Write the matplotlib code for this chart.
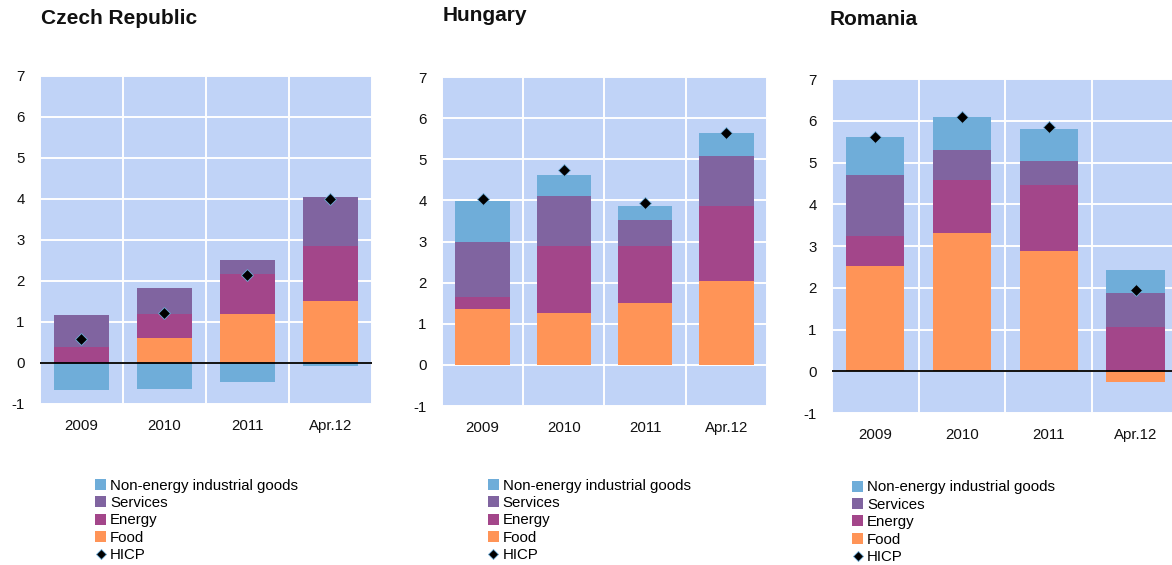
"""
HICP inflation decomposition: Czech Republic, Hungary, Romania.
Stacked contributions (pp) with headline HICP diamonds.
"""
import numpy as np
import matplotlib
matplotlib.use("Agg")
import matplotlib.pyplot as plt
from matplotlib.patches import Patch
from matplotlib.lines import Line2D

plt.rcParams["font.family"] = ["Liberation Sans", "DejaVu Sans"]
plt.rcParams["axes.unicode_minus"] = False

# ── Data ──
periods = ["2009", "2010", "2011", "Apr.12"]

cz_food = [0.0, 0.62, 1.20, 1.50]
cz_energy = [0.38, 0.58, 0.97, 1.36]
cz_services = [0.78, 0.64, 0.35, 1.19]
cz_neig = [-0.65, -0.63, -0.47, -0.08]
cz_hicp = [0.58, 1.23, 2.14, 4.00]

hu_food = [1.35, 1.27, 1.51, 2.05]
hu_energy = [0.29, 1.63, 1.37, 1.81]
hu_services = [1.36, 1.21, 0.65, 1.23]
hu_neig = [0.99, 0.50, 0.34, 0.56]
hu_hicp = [4.03, 4.73, 3.93, 5.64]

ro_food = [2.53, 3.32, 2.89, -0.26]
ro_energy = [0.72, 1.25, 1.56, 1.06]
ro_services = [1.45, 0.72, 0.59, 0.82]
ro_neig = [0.90, 0.79, 0.77, 0.54]
ro_hicp = [5.61, 6.10, 5.85, 1.95]

components = ["Food", "Energy", "Services", "Non-energy industrial goods"]

# Palette
C = {
    "Food": "#FF9457", "Energy": "#A3468A", "Services": "#8064A0",
    "Non-energy industrial goods": "#6FADD9", "bg": "#C0D3F7",
    "grid": "#FFFFFF", "text": "#111111",
}

panels = [
    ("Czech Republic", [cz_food, cz_energy, cz_services, cz_neig], cz_hicp,
     [0.0341, 0.2850, 0.2833, 0.5805], True, (0.035, 0.968), (0.081, 0.153)),
    ("Hungary", [hu_food, hu_energy, hu_services, hu_neig], hu_hicp,
     [0.3771, 0.2814, 0.2773, 0.5823], False, (0.378, 0.972), (0.416, 0.153)),
    ("Romania", [ro_food, ro_energy, ro_services, ro_neig], ro_hicp,
     [0.7099, 0.2690, 0.2960, 0.5911], True, (0.708, 0.966), (0.727, 0.150)),
]

fig = plt.figure(figsize=(11.72, 5.65), dpi=100)
fig.patch.set_facecolor("white")

x = np.arange(len(periods))

for title, series, hicp, rect, zero_line, tpos, lpos in panels:
    ax = fig.add_axes(rect)
    ax.set_facecolor(C["bg"])

    pos_base = np.zeros(len(periods))
    neg_base = np.zeros(len(periods))
    for name, vals in zip(components, series):
        vals = np.array(vals)
        base = np.where(vals >= 0, pos_base, neg_base)
        ax.bar(x, vals, bottom=base, width=0.67, color=C[name], zorder=2, linewidth=0)
        pos_base += np.where(vals >= 0, vals, 0)
        neg_base += np.where(vals < 0, vals, 0)

    ax.plot(x, hicp, ls="none", marker="D", ms=6.5, color="black",
            mec="#6FADD9", mew=0.6, zorder=4)

    if zero_line:
        ax.axhline(0, color="black", lw=1.3, zorder=3)

    ax.set_xlim(-0.5, len(periods) - 0.5)
    ax.set_ylim(-1, 7)
    ax.set_yticks(range(-1, 8))
    ax.set_xticks(x)
    ax.set_xticklabels(periods)
    ax.set_xticks(np.arange(-0.5, len(periods), 1.0), minor=True)
    ax.grid(True, axis="y", which="major", color=C["grid"], lw=1.4, zorder=1)
    ax.grid(True, axis="x", which="minor", color=C["grid"], lw=1.4, zorder=1)
    ax.grid(False, axis="x", which="major")
    for sp in ax.spines.values():
        sp.set_visible(False)
    ax.tick_params(axis="both", which="both", length=0, labelsize=10.8, colors=C["text"])
    ax.tick_params(axis="y", pad=11)
    ax.tick_params(axis="x", pad=11)

    fig.text(tpos[0], tpos[1], title, fontsize=15, fontweight="bold",
             color=C["text"], va="center", ha="left")

    handles = [Patch(facecolor=C[n], edgecolor="none") for n in reversed(components)]
    handles.append(Line2D([], [], ls="none", marker="D", ms=5.5, color="black",
                          mec="#6FADD9", mew=0.6))
    labels = list(reversed(components)) + ["HICP"]
    fig.legend(handles, labels, loc="upper left", bbox_to_anchor=lpos,
               frameon=False, fontsize=10.8, labelspacing=0.23, handlelength=0.75,
               handleheight=0.75, handletextpad=0.25, borderpad=0, borderaxespad=0)

fig.savefig("out.png", dpi=100, facecolor="white")
